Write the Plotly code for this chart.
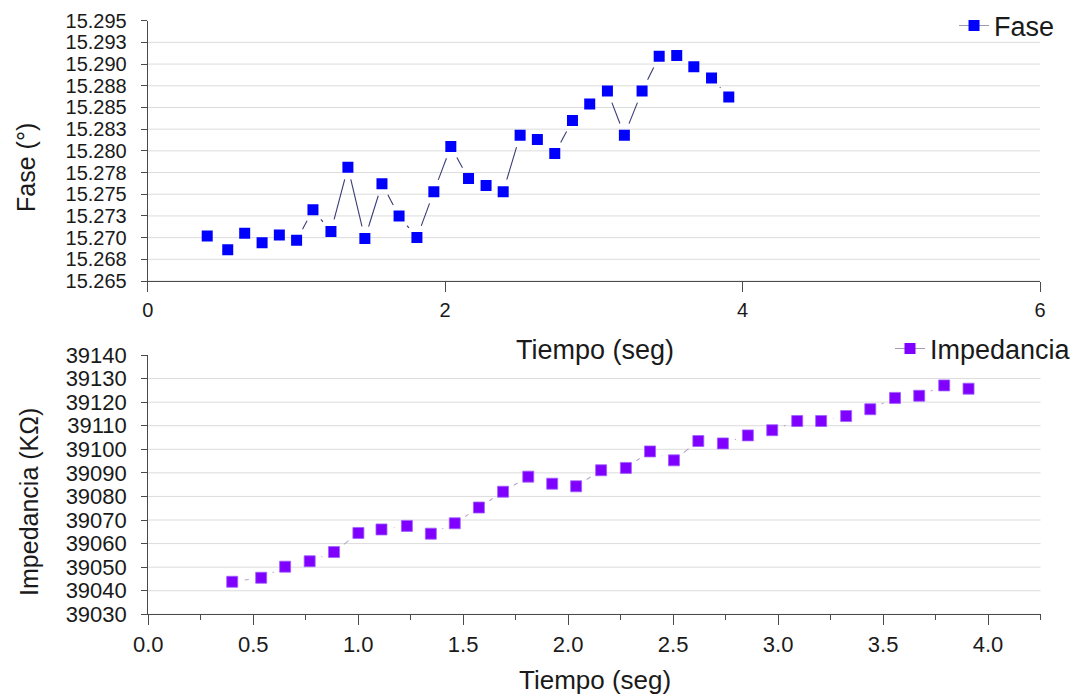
import math
import plotly.graph_objects as go

# ---- data -------------------------------------------------------------
tiempo = [0.400, 0.538, 0.652, 0.769, 0.885, 1.001, 1.111, 1.232, 1.346, 1.460,
          1.575, 1.690, 1.810, 1.924, 2.038, 2.157, 2.275, 2.390, 2.504, 2.620,
          2.737, 2.856, 2.972, 3.091, 3.205, 3.324, 3.439, 3.557, 3.672, 3.791,
          3.907]

fase = [15.2702, 15.2686, 15.2705, 15.2694, 15.2703, 15.2697, 15.2732, 15.2707,
        15.2781, 15.2699, 15.2762, 15.2725, 15.2700, 15.2753, 15.2805, 15.2768,
        15.2760, 15.2753, 15.2818, 15.2813, 15.2797, 15.2835, 15.2854, 15.2869,
        15.2818, 15.2869, 15.2909, 15.2910, 15.2897, 15.2884, 15.2862]

impedancia = [39043.8, 39045.5, 39050.2, 39052.5, 39056.4, 39064.5, 39066.0,
              39067.5, 39064.2, 39068.6, 39075.3, 39082.0, 39088.4, 39085.4,
              39084.3, 39091.1, 39092.1, 39099.1, 39095.3, 39103.5, 39102.5,
              39105.9, 39108.1, 39112.0, 39112.0, 39114.1, 39117.0, 39121.8,
              39122.7, 39127.1, 39125.7]

fase_tick_vals = [15.265, 15.2675, 15.270, 15.2725, 15.275, 15.2775, 15.280,
                  15.2825, 15.285, 15.2875, 15.290, 15.2925, 15.295]
fase_tick_text = ["15.265", "15.268", "15.270", "15.273", "15.275", "15.278",
                  "15.280", "15.283", "15.285", "15.288", "15.290", "15.293",
                  "15.295"]
fase_long_ticks = [15.265, 15.270, 15.275, 15.280, 15.285, 15.290, 15.295]

imp_tick_vals = [39030, 39040, 39050, 39060, 39070, 39080, 39090, 39100,
                 39110, 39120, 39130, 39140]
imp_tick_text = ["39030", "39040", "39050", "39060", "39070", "39080", "39090",
                 "39100", "39110", "39120", "39130", "39140"]
imp_long_ticks = [39040, 39060, 39080, 39100, 39120, 39140]

tiempo_top_ticks = [0, 2, 4, 6]
tiempo_bot_ticks = [0.0, 0.5, 1.0, 1.5, 2.0, 2.5, 3.0, 3.5, 4.0]
tiempo_bot_text = ["0.0", "0.5", "1.0", "1.5", "2.0", "2.5", "3.0", "3.5", "4.0"]

# ---- layout constants (pixels) -----------------------------------------
W, H = 1076, 696
TOP_BOX = (148, 20.7, 1042, 281)      # left, top, right, bottom
BOT_BOX = (148.5, 355, 1042.5, 614.3)
TOP_XR, TOP_YR = [0, 6], [15.265, 15.295]
BOT_XR, BOT_YR = [0, 4.25], [39030, 39140]

FONT = "Liberation Sans, Arial, sans-serif"
AXIS_COLOR = "#4a4a4a"
GRID_COLOR = "#dcdcdc"
TEXT_COLOR = "#1a1a1a"


def domains(box):
    l, t, r, b = box
    return [l / W, r / W], [1 - b / H, 1 - t / H]


def gapped(xs, ys, box, xr, yr, gap):
    """Connecting segments that stop `gap` pixels short of each symbol."""
    sx = (box[2] - box[0]) / (xr[1] - xr[0])
    sy = (box[3] - box[1]) / (yr[1] - yr[0])
    gx, gy = [], []
    for i in range(len(xs) - 1):
        dx, dy = xs[i + 1] - xs[i], ys[i + 1] - ys[i]
        length = math.hypot(dx * sx, dy * sy)
        if length <= 2 * gap:
            continue
        t = gap / length
        gx += [xs[i] + dx * t, xs[i + 1] - dx * t, None]
        gy += [ys[i] + dy * t, ys[i + 1] - dy * t, None]
    return gx, gy


def px_x(p):
    return p / W


def px_y(p):
    return 1 - p / H


top_xd, top_yd = domains(TOP_BOX)
bot_xd, bot_yd = domains(BOT_BOX)

FASE_COLOR = "#0000ff"
FASE_LINE = "#3a3a78"
IMP_COLOR = "#8000ff"
IMP_LINE = "#b7a6c9"
GAP = 12.5

fig = go.Figure()

# horizontal grid lines (none along the top edge of either panel)
for v in fase_tick_vals[:-1]:
    fig.add_shape(type="line", xref="x domain", x0=0, x1=1, yref="y", y0=v, y1=v,
                  line=dict(color=GRID_COLOR, width=1), layer="below")
for v in imp_tick_vals[:-1]:
    fig.add_shape(type="line", xref="x2 domain", x0=0, x1=1, yref="y2", y0=v, y1=v,
                  line=dict(color=GRID_COLOR, width=1), layer="below")

# top panel: phase
fx, fy = gapped(tiempo, fase, TOP_BOX, TOP_XR, TOP_YR, GAP)
fig.add_trace(go.Scatter(x=fx, y=fy, mode="lines", xaxis="x", yaxis="y",
                         line=dict(color=FASE_LINE, width=1.1),
                         connectgaps=False, showlegend=False, hoverinfo="skip"))
fig.add_trace(go.Scatter(x=tiempo, y=fase, mode="markers", xaxis="x", yaxis="y",
                         marker=dict(symbol="square", size=11, color=FASE_COLOR,
                                     line=dict(width=0)),
                         name="Fase", showlegend=False))
fig.add_trace(go.Scatter(x=[None], y=[None], mode="lines+markers", xaxis="x", yaxis="y",
                         marker=dict(symbol="square", size=11, color=FASE_COLOR),
                         line=dict(color="#9a9aa8", width=1.1),
                         name="Fase", legend="legend"))

# bottom panel: impedance
ix, iy = gapped(tiempo, impedancia, BOT_BOX, BOT_XR, BOT_YR, GAP)
fig.add_trace(go.Scatter(x=ix, y=iy, mode="lines", xaxis="x2", yaxis="y2",
                         line=dict(color=IMP_LINE, width=1.1),
                         connectgaps=False, showlegend=False, hoverinfo="skip"))
fig.add_trace(go.Scatter(x=tiempo, y=impedancia, mode="markers", xaxis="x2", yaxis="y2",
                         marker=dict(symbol="square", size=11, color=IMP_COLOR,
                                     line=dict(width=0.8, color="#a060ff")),
                         name="Impedancia", showlegend=False))
fig.add_trace(go.Scatter(x=[None], y=[None], mode="lines+markers", xaxis="x2", yaxis="y2",
                         marker=dict(symbol="square", size=11, color=IMP_COLOR),
                         line=dict(color="#a99ab8", width=1.1),
                         name="Impedancia", legend="legend2"))

axis_common = dict(showline=True, linecolor=AXIS_COLOR, linewidth=1,
                   ticks="outside", tickcolor=AXIS_COLOR, tickwidth=1,
                   zeroline=False, automargin=False, showgrid=False)

fig.update_layout(
    width=W, height=H,
    margin=dict(l=0, r=0, t=0, b=0),
    paper_bgcolor="white", plot_bgcolor="white",
    font=dict(family=FONT, color=TEXT_COLOR),
    xaxis=dict(domain=top_xd, anchor="y", range=TOP_XR, tickmode="array",
               tickvals=tiempo_top_ticks, ticklen=10, ticklabelstandoff=1,
               tickfont=dict(family=FONT, color=TEXT_COLOR, size=20),
               **axis_common),
    yaxis=dict(domain=top_yd, anchor="x", range=TOP_YR, tickmode="array",
               tickvals=fase_tick_vals, ticktext=fase_tick_text, ticklen=6,
               ticklabelstandoff=10,
               tickfont=dict(family=FONT, color=TEXT_COLOR, size=20),
               **axis_common),
    yaxis3=dict(overlaying="y", anchor="x", side="left", range=TOP_YR,
                tickmode="array", tickvals=fase_long_ticks, ticks="outside",
                ticklen=12, tickcolor=AXIS_COLOR, showticklabels=False,
                showgrid=False, showline=False, zeroline=False),
    xaxis2=dict(domain=bot_xd, anchor="y2", range=BOT_XR, tickmode="array",
                tickvals=tiempo_bot_ticks, ticktext=tiempo_bot_text, ticklen=10,
                ticklabelstandoff=0,
                minor=dict(dtick=0.25, tick0=0, ticklen=5, ticks="outside",
                           tickcolor=AXIS_COLOR, showgrid=False),
                tickfont=dict(family=FONT, color=TEXT_COLOR, size=22),
                **axis_common),
    yaxis2=dict(domain=bot_yd, anchor="x2", range=BOT_YR, tickmode="array",
                tickvals=imp_tick_vals, ticktext=imp_tick_text, ticklen=6,
                ticklabelstandoff=10,
                tickfont=dict(family=FONT, color=TEXT_COLOR, size=22),
                **axis_common),
    yaxis4=dict(overlaying="y2", anchor="x2", side="left", range=BOT_YR,
                tickmode="array", tickvals=imp_long_ticks, ticks="outside",
                ticklen=12, tickcolor=AXIS_COLOR, showticklabels=False,
                showgrid=False, showline=False, zeroline=False),
    legend=dict(x=px_x(1062), y=px_y(26), xanchor="right", yanchor="middle",
                bgcolor="rgba(0,0,0,0)", font=dict(size=27, family=FONT)),
    legend2=dict(x=px_x(1078), y=px_y(349), xanchor="right", yanchor="middle",
                 bgcolor="rgba(0,0,0,0)", font=dict(size=27, family=FONT)),
)

title_font = dict(family=FONT, size=25, color=TEXT_COLOR)
fig.add_annotation(text="Fase (°)", x=px_x(26), y=px_y(167), xref="paper", yref="paper",
                   textangle=-90, showarrow=False, font=title_font,
                   xanchor="center", yanchor="middle")
fig.add_annotation(text="Impedancia (KΩ)", x=px_x(29), y=px_y(502), xref="paper",
                   yref="paper", textangle=-90, showarrow=False, font=title_font,
                   xanchor="center", yanchor="middle")
fig.add_annotation(text="Tiempo (seg)", x=px_x(596), y=px_y(350), xref="paper",
                   yref="paper", showarrow=False, font=dict(title_font, size=27),
                   xanchor="center", yanchor="middle")
fig.add_annotation(text="Tiempo (seg)", x=px_x(596), y=px_y(680), xref="paper",
                   yref="paper", showarrow=False, font=dict(title_font, size=26),
                   xanchor="center", yanchor="middle")

fig.write_html("out.html")
